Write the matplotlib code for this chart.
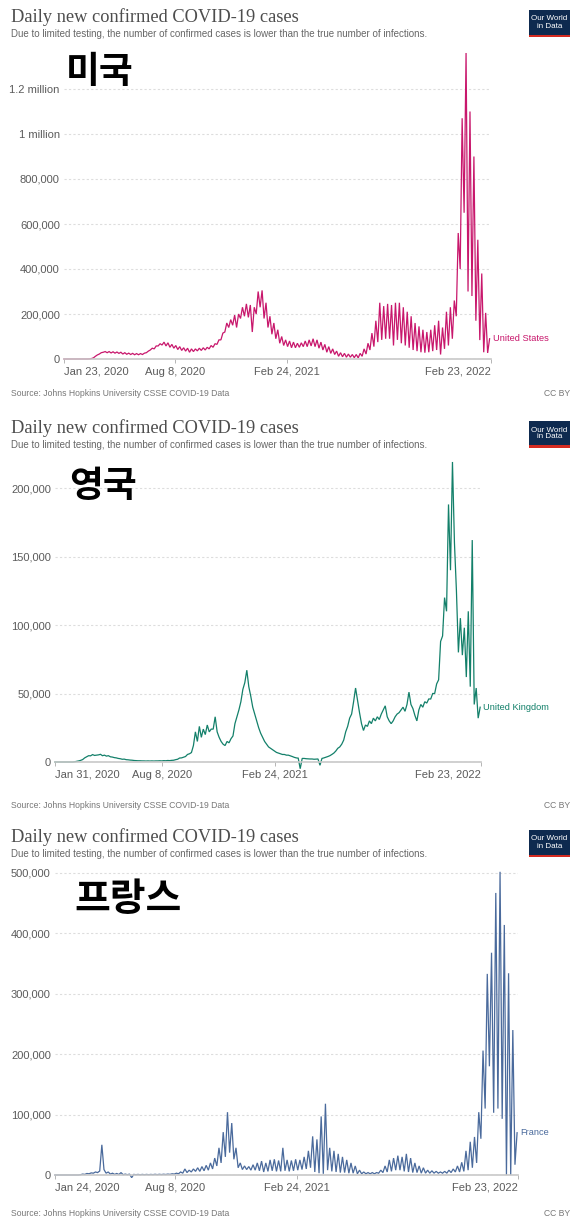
import matplotlib

matplotlib.use("Agg")
import matplotlib.pyplot as plt
import numpy as np
import pandas as pd
from matplotlib.patches import Rectangle

W, H = 580, 1228

title = "Daily new confirmed COVID-19 cases"
subtitle = ("Due to limited testing, the number of confirmed cases is lower "
            "than the true number of infections.")
source = "Source: Johns Hopkins University CSSE COVID-19 Data"

# twice-weekly readings of daily new cases (thousands)
us_start = "2020-01-23"
us_cases = [
    0, 0, 0, 0, 0, 0, 0, 0, 0, 0, 0, 0, 0.1, 0.5, 2, 5, 12, 18, 22, 28,
    30, 33, 28, 33, 27, 32, 26, 31, 25, 30, 22, 28, 21, 26, 20, 25, 19, 24, 19, 24,
    20, 26, 28, 35, 40, 48, 45, 58, 58, 68, 62, 75, 58, 72, 52, 65, 48, 60, 42, 55,
    38, 50, 35, 48, 30, 45, 33, 45, 36, 48, 38, 50, 40, 52, 45, 60, 52, 68, 65, 85,
    85, 115, 120, 160, 140, 175, 150, 195, 140, 200, 180, 230, 190, 245, 185, 240, 120, 230, 200, 300,
    230, 305, 180, 250, 140, 190, 110, 160, 90, 130, 70, 100, 60, 85, 55, 80, 50, 75, 50, 70,
    52, 72, 55, 80, 55, 85, 58, 90, 55, 85, 48, 75, 40, 65, 30, 55, 25, 45, 20, 35,
    12, 28, 10, 25, 8, 22, 8, 20, 6, 20, 5, 25, 12, 45, 22, 70, 40, 115, 55, 170,
    75, 250, 85, 235, 90, 245, 90, 240, 60, 250, 85, 250, 70, 230, 60, 210, 50, 190, 40, 160,
    35, 145, 30, 130, 28, 120, 30, 130, 35, 150, 40, 170, 20, 140, 45, 210, 60, 230, 90, 260,
    190, 560, 400, 1070, 650, 1360, 300, 1100, 280, 900, 170, 530, 84, 380, 30, 205, 27, 90,
]

uk_start = "2020-01-31"
uk_cases = [
    0, 0, 0, 0, 0, 0, 0, 0, 0, 0, 0.2, 0.5, 0.8, 1.2, 1.8, 3.0, 3.8, 4.6, 4.5, 5.4,
    4.8, 5.0, 5.2, 5.6, 4.6, 5.0, 4.3, 4.6, 3.8, 3.6, 3.2, 3.0, 2.6, 2.4, 2.0, 2.1, 1.7, 1.6, 1.4, 1.3,
    1.1, 1.0, 0.9, 0.9, 0.8, 0.8, 0.7, 0.8, 0.7, 0.8, 0.7, 0.8, 0.8, 0.9, 0.8, 1.0, 0.9, 1.1, 1.0, 1.2,
    1.3, 1.7, 2.0, 2.9, 3.0, 3.5, 4.0, 5.5, 6.0, 6.9, 12, 22, 15, 26, 18, 24, 20, 27, 22, 24,
    24, 33, 22, 18, 15, 13, 12, 15, 14, 17, 19, 28, 33, 38, 44, 53, 58, 67, 55, 48,
    40, 35, 30, 25, 21, 18, 15, 13, 11, 10, 9, 8, 7, 6.5, 6, 5.5, 5.5, 5, 5, 4.5,
    4, 3.4, 3, 2.8, -4.9, 2.6, 2.6, 2.4, 2.3, 2.2, 2.2, 2.0, 2.1, 2.2, -2.4, 2.6, 3.0, 3.5, 4.0, 4.6,
    5.5, 6.5, 8, 10, 11, 13, 16, 22, 26, 32, 35, 44, 54, 45, 36, 28, 23, 27, 26, 30,
    28, 32, 30, 33, 31, 35, 38, 41, 33, 30, 28, 30, 33, 35, 36, 38, 40, 37, 42, 51,
    42, 39, 34, 30, 38, 42, 40, 44, 43, 46, 46, 50, 50, 57, 60, 88, 92, 120, 110, 188,
    140, 219, 160, 125, 80, 105, 78, 98, 62, 110, 55, 162, 42, 54, 32, 40,
]

fr_start = "2020-01-24"
fr_cases = [
    0, 0, 0, 0, 0, 0, 0, 0, 0, 0, 0, 0, 0.5, 1.5, 1, 2.5, 2, 3.5, 3, 5,
    4, 6.6, 50, 9, 3, 5, 1.5, 3, 1, 2.5, 0.8, 4, 0.5, 1.5, 0.5, 1.5, -4.4, 1, 0.5, 1,
    0.4, 1, 0.5, 1, 0.5, 1, 0.6, 1.2, 0.6, 1.2, 0.7, 1.3, 0.8, 1.5, 1, 2, 1.5, 3, 2, 5,
    3, 10, 4, 8, 5, 10, 6, 12, 6, 14, 7, 16, 8, 20, 10, 28, 15, 45, 20, 71,
    30, 104, 37, 86, 26, 45, 12, 20, 9, 15, 9, 14, 8, 17, 8, 20, 7, 23, 5, 20,
    6, 25, 7, 26, 6, 24, 6, 45, 7, 25, 6, 24, 7, 26, 8, 25, 9, 30, 10, 40,
    12, 64, 5, 59, 3, 97, 2, 118, 8, 45, 6, 40, 5, 35, 4, 30, 4, 25, 3, 20,
    3, 15, 2, 8, 2, 5, 2, 4, 2, 4, 2, 4, 3, 8, 4, 15, 5, 25, 6, 28,
    8, 32, 8, 30, 6, 35, 5, 28, 4, 20, 4, 15, 3, 12, 3, 8, 3, 7, 3, 6,
    3, 5, 3, 6, 3, 8, 4, 10, 5, 15, 5, 21, 6, 40, 8, 55, 12, 63, 20, 104,
    60, 206, 110, 333, 180, 368, 103, 467, 110, 502, 93, 414, 0, 334, 0, 240, 17, 70,
]

x_ticks_end = ["2020-08-08", "2021-02-24", "2022-02-23"]

us_y_ticks = [0, 200000, 400000, 600000, 800000, 1000000, 1200000]
uk_y_ticks = [0, 50000, 100000, 150000, 200000]
fr_y_ticks = [0, 100000, 200000, 300000, 400000, 500000]

panels = [
    dict(name="United States", korean="미국", start=us_start, cases=us_cases,
         yticks=us_y_ticks, color="#c8176c", top=0,
         box=(64, 491, 359, 45), label_xy=(66, 72), label_size=26.5),
    dict(name="United Kingdom", korean="영국", start=uk_start, cases=uk_cases,
         yticks=uk_y_ticks, color="#13806a", top=411,
         box=(55, 481, 762, 68.5), label_xy=(69, 486), label_size=26.5),
    dict(name="France", korean="프랑스", start=fr_start, cases=fr_cases,
         yticks=fr_y_ticks, color="#4a6a9c", top=820,
         box=(55, 518, 1175, 60.4), label_xy=(74, 900), label_size=28),
]


def fx(px):
    return px / W


def fy(px):
    return 1 - px / H


def y_label(v):
    if v >= 1000000:
        return f"{v / 1000000:g} million"
    return f"{v:,.0f}"


fig = plt.figure(figsize=(W / 100, H / 100), dpi=100)

for p in panels:
    top = p["top"]
    left, right, bottom, step_px = p["box"]
    step = p["yticks"][1]
    y_top = step * (bottom - (top + 50)) / step_px
    ax = fig.add_axes([fx(left), fy(bottom), fx(right - left), (bottom - top - 50) / H])

    dates = pd.Timestamp(p["start"]) + pd.to_timedelta(np.arange(len(p["cases"])) * 3.5, unit="D")
    values = np.array(p["cases"]) * 1000
    ax.plot(dates, values, color=p["color"], lw=0.9, clip_on=False, solid_joinstyle="miter")
    ax.annotate(p["name"], xy=(dates[-1], values[-1]), xytext=(3, 0), textcoords="offset pixels",
                color=p["color"], fontsize=6.7, va="center", ha="left", family="Liberation Sans")

    ax.set_xlim(pd.Timestamp(p["start"]), pd.Timestamp("2022-02-23"))
    ax.set_ylim(0, y_top)
    ticks = [pd.Timestamp(p["start"])] + [pd.Timestamp(t) for t in x_ticks_end]
    ax.set_xticks(ticks, [f"{t:%b} {t.day}, {t.year}" for t in ticks])
    ax.set_yticks(p["yticks"], [y_label(v) for v in p["yticks"]])

    for s in ["top", "right", "left"]:
        ax.spines[s].set_visible(False)
    ax.spines["bottom"].set_color("#c8c8c8")
    ax.spines["bottom"].set_linewidth(1.2)
    ax.tick_params(axis="x", direction="out", length=3, width=0.6, color="#aaaaaa",
                   labelsize=8, labelcolor="#5b5b5b", pad=8.5)
    ax.tick_params(axis="y", length=0, labelsize=8, labelcolor="#5b5b5b", pad=3)
    xlabels = ax.get_xticklabels()
    for lab in xlabels:
        lab.set_va("baseline")
    xlabels[0].set_ha("left")
    xlabels[-1].set_ha("right")
    for lab in xlabels + ax.get_yticklabels():
        lab.set_family("Liberation Sans")
    ax.grid(axis="y", color="#dddddd", lw=0.8, linestyle=(0, (2, 2)))
    ax.set_axisbelow(True)
    ax.patch.set_alpha(0)

    fig.text(fx(11), fy(top + 17), title, family="Liberation Serif", fontsize=13.2,
             color="#4d4d4d", va="center", ha="left")
    fig.text(fx(11), fy(top + 34), subtitle, family="Liberation Sans", fontsize=7.0,
             color="#666666", va="center", ha="left")
    fig.text(fx(11), fy(top + 394), source, family="Liberation Sans", fontsize=6.2,
             color="#777777", va="center", ha="left")
    fig.text(fx(570), fy(top + 394), "CC BY", family="Liberation Sans", fontsize=6.2,
             color="#777777", va="center", ha="right")

    # logo
    fig.add_artist(Rectangle((fx(529), fy(top + 37)), fx(41), 27 / H, transform=fig.transFigure,
                             facecolor="#0e2a4f", edgecolor="none"))
    fig.add_artist(Rectangle((fx(529), fy(top + 37)), fx(41), 2.5 / H, transform=fig.transFigure,
                             facecolor="#d42b21", edgecolor="none"))
    fig.text(fx(549.5), fy(top + 22.5), "Our World\nin Data", family="Liberation Sans",
             fontsize=5.8, color="white", va="center", ha="center", linespacing=1.0)

    lx, ly = p["label_xy"]
    fig.text(fx(lx), fy(ly), p["korean"], family=["Noto Sans CJK KR", "DejaVu Sans"],
             fontsize=p["label_size"], fontweight="bold", color="black", va="center", ha="left")

fig.savefig("out.png", dpi=100)
